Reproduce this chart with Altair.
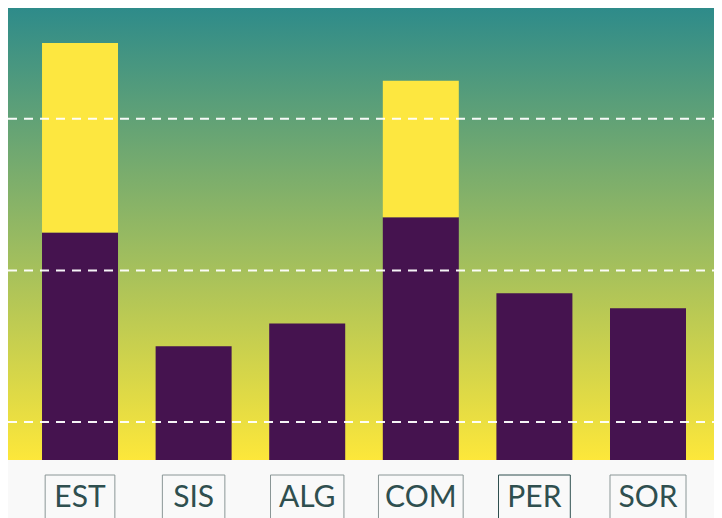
import altair as alt
import pandas as pd

# ---- data ----
categories = ["EST", "SIS", "ALG", "COM", "PER", "SOR"]
base_values = [60, 30, 36, 64, 44, 40]
extra_values = [50, 0, 0, 36, 0, 0]
grid_values = [10, 50, 90]
highlighted = "PER"

# ---- layout / style ----
W, H = 706, 452
SVG_H = 512
X_DOMAIN = [-0.634, 5.581]
Y_DOMAIN = [0, 120]
PX_PER_UNIT = W / (X_DOMAIN[1] - X_DOMAIN[0])
BAR_HALF = 0.3345
FONT = "Lato"
FONT_SIZE = 30
BOX_PAD = 25
# approximate glyph advance widths (em) used to size the label boxes
CHAR_EM = {"A": .544, "C": .58, "E": .49, "G": .61, "I": .25, "L": .46,
           "M": .75, "O": .66, "P": .53, "R": .54, "S": .5, "T": .5}

PURPLE = "#45134f"
YELLOW = "#fde740"
TOP_BG = "#2e8b8a"
BOTTOM_BG = "#fde73a"
PAGE_BG = "#f9f9f9"
TEXT_COLOR = "#2f4f4f"
BOX_STROKE = "#8a9696"


def text_width(s):
    return sum(CHAR_EM.get(c, 0.55) for c in s) * FONT_SIZE


df = pd.DataFrame({
    "cat": categories,
    "idx": list(range(len(categories))),
    "base": base_values,
    "extra": extra_values,
})
df["top"] = df["base"] + df["extra"]
df["half_box"] = [(text_width(c) + BOX_PAD) / 2 / PX_PER_UNIT for c in categories]

grid_df = pd.DataFrame({"v": grid_values})

xs = alt.Scale(domain=X_DOMAIN, range=[0, W], nice=False, zero=False)
ys = alt.Scale(domain=Y_DOMAIN, range=[H, -3], nice=False, zero=False)

background = alt.Chart(pd.DataFrame({"a": [0]})).mark_rect(
    color=alt.Gradient(
        gradient="linear",
        stops=[alt.GradientStop(color=TOP_BG, offset=0),
               alt.GradientStop(color=BOTTOM_BG, offset=1)],
        x1=0, x2=0, y1=0, y2=1,
    )
).encode(x=alt.value(0), x2=alt.value(W), y=alt.value(0), y2=alt.value(H))

base = alt.Chart(df).transform_calculate(
    lo=f"datum.idx - {BAR_HALF}", hi=f"datum.idx + {BAR_HALF}"
)

bars = base.mark_rect(color=PURPLE).encode(
    x=alt.X("lo:Q", scale=xs, axis=None),
    x2="hi:Q",
    y=alt.Y("base:Q", scale=ys, axis=None),
    y2=alt.datum(0),
)

extra_bars = base.transform_filter("datum.extra > 0").mark_rect(color=YELLOW).encode(
    x=alt.X("lo:Q", scale=xs, axis=None),
    x2="hi:Q",
    y=alt.Y("top:Q", scale=ys, axis=None),
    y2="base:Q",
)

grid = alt.Chart(grid_df).mark_rule(
    color="white", strokeDash=[9, 7], strokeWidth=2, opacity=0.95
).encode(
    y=alt.Y("v:Q", scale=ys, axis=None),
    x=alt.value(0),
    x2=alt.value(W),
)

boxes = alt.Chart(df).transform_calculate(
    blo="datum.idx - datum.half_box", bhi="datum.idx + datum.half_box"
).mark_rect(fill=PAGE_BG, strokeWidth=1).encode(
    x=alt.X("blo:Q", scale=xs, axis=None),
    x2="bhi:Q",
    y=alt.value(467),
    y2=alt.value(540),
    stroke=alt.condition(alt.datum.cat == highlighted,
                         alt.value(TEXT_COLOR), alt.value(BOX_STROKE)),
)

labels = alt.Chart(df).mark_text(
    font=FONT, fontSize=FONT_SIZE, baseline="alphabetic", align="center",
    color=TEXT_COLOR,
).encode(
    x=alt.X("idx:Q", scale=xs, axis=None),
    y=alt.value(499),
    text="cat:N",
)

chart = alt.layer(background, bars, extra_bars, grid, boxes, labels).properties(
    width=W, height=H,
    autosize=alt.AutoSizeParams(type="none"),
    padding={"left": 0, "top": 0, "right": 0, "bottom": SVG_H - H},
    background=PAGE_BG,
).configure_view(stroke=None)

chart.save("out.html", embed_options={"renderer": "svg", "actions": False})
